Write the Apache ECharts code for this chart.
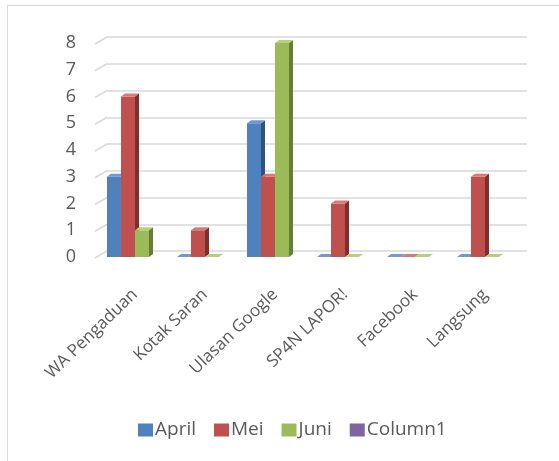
<!DOCTYPE html>
<html>
<head>
<meta charset="utf-8">
<script src="https://cdn.jsdelivr.net/npm/echarts@6/dist/echarts.min.js"></script>
<style>
  html, body { margin: 0; padding: 0; background: #fff; }
  #frame { position: absolute; left: 7px; top: 5px; width: 560px; height: 460px; border: 1.5px solid #d9d9d9; box-sizing: border-box; }
  #chart { position: absolute; left: 0; top: 0; width: 559px; height: 461px; }
</style>
</head>
<body>
<div id="frame"></div>
<div id="chart"></div>
<script>
// data
var categories = ['WA Pengaduan', 'Kotak Saran', 'Ulasan Google', 'SP4N LAPOR!', 'Facebook', 'Langsung'];
var april = [3, 0, 5, 0, 0, 0];
var mei = [6, 1, 3, 2, 0, 3];
var juni = [1, 0, 8, 0, 0, 0];
var column1 = [];
var yTicks = [0, 1, 2, 3, 4, 5, 6, 7, 8];

var font = '"Open Sans", "Liberation Sans", sans-serif';
var DX = 4, DY = 3;   // bar depth

function pairs(arr) {
    return arr.map(function (v, i) { return [i, v]; });
}

// 3d-looking column: front, side and top face
function bar3d(slot, color, side, top) {
    return function (params, api) {
        var base = api.coord([api.value(0), 0]);
        var tip = api.coord([api.value(0), api.value(1)]);
        var band = api.size([1, 0])[0];
        var w = band * 0.2;
        var x = base[0] + (slot - 1) * w - w / 2;
        var y0 = base[1], y1 = tip[1];
        return {
            type: 'group',
            children: [
                { type: 'rect', shape: { x: x, y: y1, width: w, height: y0 - y1 }, style: { fill: color } },
                { type: 'polygon', shape: { points: [[x + w, y1], [x + w + DX, y1 - DY], [x + w + DX, y0 - DY], [x + w, y0]] }, style: { fill: side } },
                { type: 'polygon', shape: { points: [[x, y1], [x + DX, y1 - DY], [x + w + DX, y1 - DY], [x + w, y1]] }, style: { fill: top } }
            ]
        };
    };
}

var myChart = echarts.init(document.getElementById('chart'));
var option = {
    animation: false,
    legend: {
        top: 414,
        left: 133,
        itemWidth: 15,
        itemHeight: 13,
        itemGap: 18,
        icon: 'rect',
        textStyle: { fontFamily: font, fontSize: 19, lineHeight: 22, color: '#595959', padding: [0, 0, 0, -3] },
        data: ['April', 'Mei', 'Juni', 'Column1']
    },
    grid: [
        // front plane (bars)
        { left: 93, right: 46, top: 43, bottom: 204 },
        // back wall (gridlines)
        { left: 107, right: 32, top: 37, bottom: 210 },
        // category labels sit a little to the right of the bars
        { left: 100, right: 39, top: 43, bottom: 204 }
    ],
    xAxis: [
        {
            type: 'category', gridIndex: 0, data: categories,
            axisLine: { show: false }, axisTick: { show: false }, axisLabel: { show: false }
        },
        { type: 'value', gridIndex: 1, min: 0, max: 1, show: false },
        {
            type: 'category', gridIndex: 2, data: categories,
            axisLine: { show: false }, axisTick: { show: false },
            axisLabel: { rotate: 44, margin: 35, fontFamily: font, fontSize: 17, color: '#595959', interval: 0 }
        }
    ],
    yAxis: [
        {
            type: 'value', gridIndex: 0, min: 0, max: 8, interval: 1,
            axisLine: { show: false }, axisTick: { show: false }, splitLine: { show: false },
            axisLabel: { margin: 17, fontFamily: font, fontSize: 18, color: '#595959' }
        },
        {
            type: 'value', gridIndex: 1, min: 0, max: 8, interval: 1,
            axisLine: { show: false }, axisTick: { show: false }, axisLabel: { show: false },
            splitLine: { show: true, lineStyle: { color: '#d9d9d9', width: 1.5 } }
        },
        { type: 'value', gridIndex: 2, min: 0, max: 8, show: false }
    ],
    series: [
        {
            // slanted start of each gridline
            type: 'custom', xAxisIndex: 1, yAxisIndex: 1, silent: true,
            data: yTicks.map(function (t) { return [0, t]; }),
            renderItem: function (params, api) {
                var p = api.coord([0, api.value(1)]);
                return { type: 'line', shape: { x1: p[0] - 12, y1: p[1] + 7, x2: p[0], y2: p[1] }, style: { stroke: '#d9d9d9', lineWidth: 1.5 } };
            }
        },
        { name: 'April', type: 'custom', data: pairs(april), itemStyle: { color: '#4f81bd' },
          renderItem: bar3d(0, '#4f81bd', '#2f5283', '#7199cf') },
        { name: 'Mei', type: 'custom', data: pairs(mei), itemStyle: { color: '#c0504d' },
          renderItem: bar3d(1, '#c0504d', '#7f2e2c', '#d67a77') },
        { name: 'Juni', type: 'custom', data: pairs(juni), itemStyle: { color: '#9bbb59' },
          renderItem: bar3d(2, '#9bbb59', '#657d35', '#b5d17c') },
        { name: 'Column1', type: 'custom', data: pairs(column1), itemStyle: { color: '#8064a2' },
          renderItem: bar3d(3, '#8064a2', '#5c4776', '#9d85bd') }
    ]
};
myChart.setOption(option);
window.addEventListener('resize', function () { myChart.resize(); });
</script>
</body>
</html>
